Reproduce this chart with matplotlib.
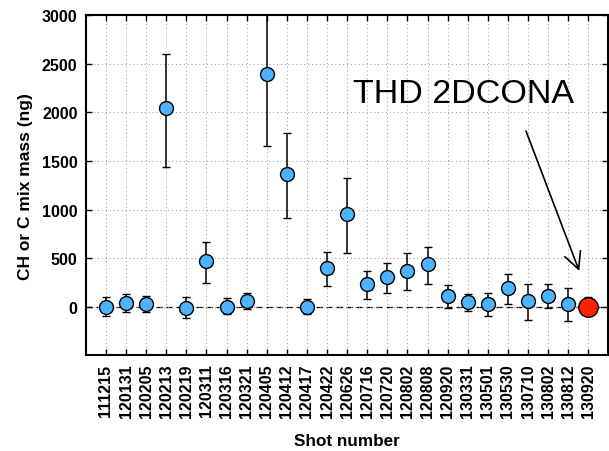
import numpy as np
import matplotlib.pyplot as plt

plt.rcParams['font.family'] = ['Liberation Sans', 'DejaVu Sans']

shots = ['111215', '120131', '120205', '120213', '120219', '120311', '120316',
         '120321', '120405', '120412', '120417', '120422', '120626', '120716',
         '120720', '120802', '120808', '120920', '130331', '130501', '130530',
         '130710', '130802', '130812', '130920']
mass = [0, 40, 32, 2050, -12, 465, 0, 60, 2400, 1365, 0, 400, 950, 228,
        302, 368, 435, 108, 50, 24, 188, 56, 108, 25, 0]
err_lo = [95, 100, 83, 610, 108, 220, 78, 88, 745, 455, 80, 185, 400, 148,
          158, 200, 203, 118, 92, 116, 165, 193, 125, 172, 100]
err_hi = [95, 90, 78, 550, 108, 200, 86, 84, 745, 420, 80, 166, 370, 138,
          144, 182, 182, 115, 77, 113, 152, 172, 125, 164, 100]

x = np.arange(1, len(shots) + 1)

fig = plt.figure(figsize=(6.09, 4.52), dpi=100)
ax = fig.add_axes([0.141, 0.212, 0.858, 0.752])

ax.axhline(0, color='black', lw=0.9, ls=(0, (5, 3)), zorder=1)

# regular shots in blue, the last one (THD 2DCONA) in red
ax.errorbar(x[:-1], mass[:-1], yerr=[err_lo[:-1], err_hi[:-1]], fmt='o',
            color='black', ecolor='black', elinewidth=1.1, capsize=3, capthick=1.1,
            markersize=10, markerfacecolor='#4db3ff', markeredgecolor='black',
            markeredgewidth=1.0, zorder=3)
ax.errorbar(x[-1:], mass[-1:], yerr=[err_lo[-1:], err_hi[-1:]], fmt='o',
            color='black', ecolor='black', elinewidth=1.1, capsize=3, capthick=1.1,
            markersize=14, markerfacecolor='#ff2200', markeredgecolor='black',
            markeredgewidth=1.0, zorder=4)

ax.set_xlim(0, len(shots) + 1)
ax.set_ylim(-500, 3000)
ax.set_xticks(x)
ax.set_xticklabels(shots, rotation=90, fontsize=11.5, fontweight='bold')
ax.set_yticks(np.arange(0, 3001, 500))
ax.set_yticklabels([str(v) for v in range(0, 3001, 500)], fontsize=11.5,
                   fontweight='bold')
ax.tick_params(direction='in', length=4, width=1, top=True, right=True, pad=6)
ax.grid(True, color='#999999', ls=(0, (1, 3)), lw=0.7)
for s in ax.spines.values():
    s.set_linewidth(1.5)

ax.set_xlabel('Shot number', fontsize=12.3, fontweight='bold', labelpad=11)
ax.set_ylabel('CH or C mix mass (ng)', fontsize=12.5, fontweight='bold', labelpad=6)

ax.text(13.3, 2195, 'THD 2DCONA', fontsize=24.5, va='center', ha='left')
ax.annotate('', xy=(24.6, 340), xytext=(21.85, 1835),
            arrowprops=dict(arrowstyle='->', lw=1.2, color='black',
                            mutation_scale=30))

fig.savefig('out.png', dpi=100)
